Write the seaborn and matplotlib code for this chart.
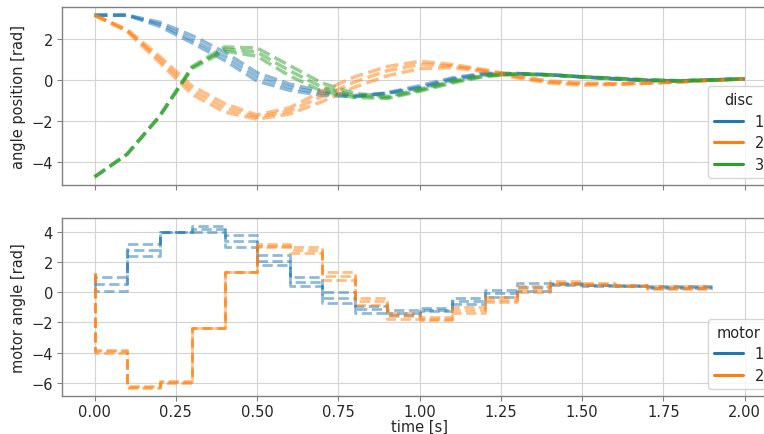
import matplotlib
matplotlib.use("Agg")
import matplotlib.pyplot as plt
from matplotlib.lines import Line2D
import seaborn as sns
import pandas as pd

# time grids
t_disc = [round(0.1 * i, 1) for i in range(21)]
t_motor = [round(0.1 * i, 1) for i in range(20)]

# disc angle trajectories (3 runs per disc)
disc1_runs = [
    [3.14, 3.14, 2.8, 2.15, 1.35, 0.35, -0.2, -0.55, -0.75, -0.65, -0.4, 0.0, 0.25, 0.3, 0.25, 0.15, 0.05, -0.02, -0.05, 0.0, 0.05],
    [3.14, 3.14, 2.7, 1.95, 1.15, 0.15, -0.35, -0.65, -0.8, -0.65, -0.35, 0.05, 0.3, 0.3, 0.25, 0.15, 0.05, -0.03, -0.05, 0.0, 0.05],
    [3.14, 3.14, 2.6, 1.8, 0.95, -0.05, -0.5, -0.75, -0.82, -0.62, -0.28, 0.1, 0.33, 0.32, 0.25, 0.15, 0.06, -0.03, -0.04, 0.01, 0.06],
]
disc2_runs = [
    [3.14, 2.45, 1.15, -0.3, -1.15, -1.7, -1.35, -0.55, 0.15, 0.65, 0.9, 0.75, 0.5, 0.2, -0.05, -0.15, -0.18, -0.14, -0.08, 0.0, 0.05],
    [3.14, 2.4, 1.0, -0.5, -1.35, -1.8, -1.5, -0.8, -0.1, 0.45, 0.75, 0.68, 0.45, 0.15, -0.1, -0.2, -0.2, -0.15, -0.1, -0.01, 0.05],
    [3.14, 2.35, 0.85, -0.7, -1.55, -1.9, -1.65, -1.05, -0.35, 0.2, 0.55, 0.6, 0.4, 0.1, -0.15, -0.25, -0.22, -0.16, -0.1, -0.02, 0.05],
]
disc3_runs = [
    [-4.7, -3.6, -1.75, 0.65, 1.6, 1.55, 0.7, -0.15, -0.65, -0.8, -0.45, -0.05, 0.22, 0.3, 0.25, 0.15, 0.08, 0.0, -0.04, 0.0, 0.05],
    [-4.7, -3.6, -1.75, 0.6, 1.5, 1.35, 0.45, -0.35, -0.76, -0.85, -0.5, -0.1, 0.2, 0.29, 0.25, 0.15, 0.08, 0.0, -0.04, 0.0, 0.05],
    [-4.7, -3.6, -1.78, 0.55, 1.4, 1.15, 0.2, -0.55, -0.85, -0.9, -0.55, -0.15, 0.17, 0.28, 0.24, 0.15, 0.08, 0.0, -0.04, 0.0, 0.05],
]

# motor angle commands (first value = initial angle, then one value per step)
motor1_runs = [
    [0.5, 1.0, 3.2, 4.0, 4.4, 3.8, 2.5, 1.0, 0.0, -0.9, -1.2, -1.05, -0.4, 0.15, 0.6, 0.65, 0.5, 0.5, 0.45, 0.45],
    [0.5, 0.55, 2.8, 4.0, 4.2, 3.4, 2.1, 0.7, -0.35, -1.1, -1.35, -1.15, -0.6, -0.05, 0.35, 0.55, 0.48, 0.45, 0.35, 0.35],
    [0.5, 0.1, 2.4, 4.0, 4.0, 3.0, 1.8, 0.4, -0.7, -1.35, -1.5, -1.25, -0.8, -0.3, 0.1, 0.5, 0.45, 0.4, 0.28, 0.28],
]
motor2_runs = [
    [1.3, -3.8, -6.2, -5.9, -2.35, 1.35, 3.2, 3.0, 1.35, -0.4, -1.4, -1.65, -1.0, -0.3, 0.45, 0.75, 0.6, 0.5, 0.45, 0.4],
    [1.3, -3.9, -6.28, -5.95, -2.35, 1.35, 3.1, 2.8, 1.1, -0.6, -1.6, -1.75, -1.15, -0.5, 0.25, 0.65, 0.55, 0.45, 0.32, 0.32],
    [1.3, -4.0, -6.35, -6.0, -2.35, 1.35, 3.0, 2.6, 0.8, -0.85, -1.8, -1.85, -1.35, -0.65, 0.05, 0.55, 0.46, 0.4, 0.2, 0.25],
]

disc_labels = ["1", "2", "3"]
motor_labels = ["1", "2"]
colors = ["#1f77b4", "#ff7f0e", "#2ca02c"]


def to_frame(times, groups, labels, name):
    rows = []
    for lab, runs in zip(labels, groups):
        for r, run in enumerate(runs):
            for t, v in zip(times, run):
                rows.append({"time": t, "value": v, name: lab, "run": r})
    return pd.DataFrame(rows)


df_disc = to_frame(t_disc, [disc1_runs, disc2_runs, disc3_runs], disc_labels, "disc")
df_motor = to_frame(t_motor, [motor1_runs, motor2_runs], motor_labels, "motor")

sns.set_style("whitegrid", {"axes.edgecolor": "0.5", "xtick.bottom": True,
                            "ytick.left": True, "grid.color": "0.83"})
plt.rcParams["font.family"] = ["DejaVu Sans"]
fs = 10.5

fig = plt.figure(figsize=(7.64, 4.35), dpi=100)
ax1 = fig.add_axes([0.0812, 0.5724, 0.936, 0.409])
ax2 = fig.add_axes([0.0812, 0.0874, 0.936, 0.409], sharex=ax1)

sns.lineplot(data=df_disc, x="time", y="value", hue="disc", units="run",
             estimator=None, palette=colors, linestyle="--", linewidth=2.5,
             alpha=0.5, legend=False, ax=ax1)
sns.lineplot(data=df_motor, x="time", y="value", hue="motor", units="run",
             estimator=None, palette=colors[:2], linestyle="--", linewidth=2.0,
             alpha=0.5, drawstyle="steps-pre", legend=False, ax=ax2)

for ax in (ax1, ax2):
    for sp in ax.spines.values():
        sp.set_linewidth(1.0)
    ax.tick_params(labelcolor="0.15", color="0.5", length=3.5, width=0.8,
                   labelsize=fs, pad=3)
ax2.tick_params(axis="x", pad=2)

ax1.set_ylabel("angle position [rad]", fontsize=fs, color="0.15")
ax1.set_xlabel("")
ax1.tick_params(axis="x", labelbottom=False)
ax1.set_yticks([-4, -2, 0, 2])
ax2.set_ylabel("motor angle [rad]", fontsize=fs, color="0.15")
ax2.set_xlabel("time [s]", fontsize=fs, color="0.15")
ax2.xaxis.set_label_coords(0.5, -0.126)
ax2.set_yticks([-6, -4, -2, 0, 2, 4])
ax2.set_xticks([0, 0.25, 0.5, 0.75, 1.0, 1.25, 1.5, 1.75, 2.0])
ax2.set_xlim(-0.1, 2.1)

h1 = [Line2D([], [], color=c, lw=2.2) for c in colors]
ax1.legend(h1, disc_labels, title="disc", loc="lower right", fontsize=fs,
           title_fontsize=fs, handlelength=2.0, labelspacing=0.45)
h2 = [Line2D([], [], color=c, lw=2.2) for c in colors[:2]]
ax2.legend(h2, motor_labels, title="motor", loc="lower right", fontsize=fs,
           title_fontsize=fs, handlelength=2.0, labelspacing=0.45)

fig.savefig("out.png", dpi=100)
